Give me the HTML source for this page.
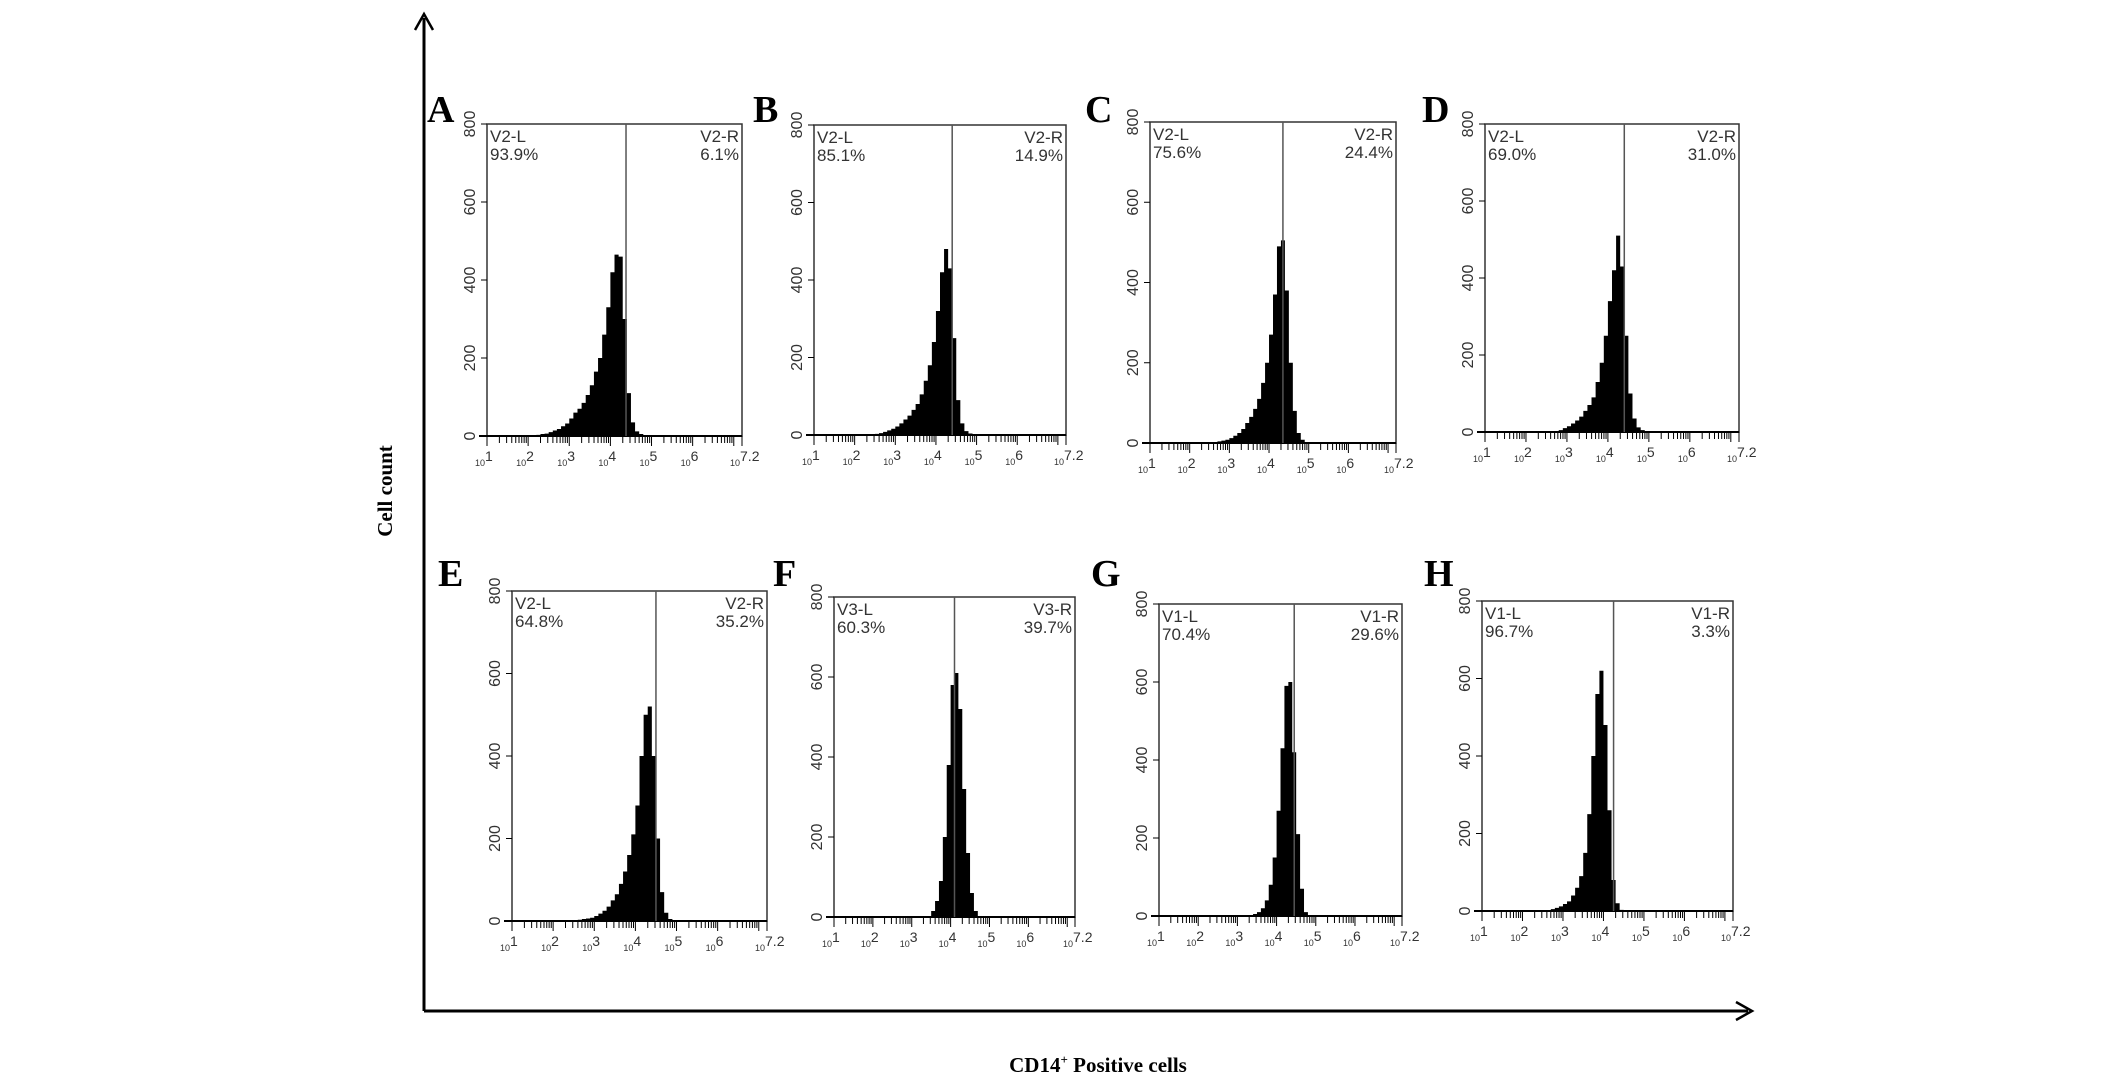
<!DOCTYPE html>
<html><head><meta charset="utf-8"><style>
html,body{margin:0;padding:0;background:#fff;}
svg{display:block;}
</style></head><body>
<svg id="fig" width="2126" height="1087" viewBox="0 0 2126 1087" xmlns="http://www.w3.org/2000/svg">
<g>
<line x1="424" y1="1011" x2="424" y2="18" stroke="#000" stroke-width="3"/>
<path d="M415 30 L424 14 L433 30" fill="none" stroke="#000" stroke-width="2.5"/>
</g>
<g>
<line x1="424" y1="1011" x2="1748" y2="1011" stroke="#000" stroke-width="3"/>
<path d="M1736 1002 L1752 1011 L1736 1020" fill="none" stroke="#000" stroke-width="2.5"/>
</g>
<text transform="translate(392,491) rotate(-90)" text-anchor="middle" font-family="Liberation Serif, serif" font-weight="bold" font-size="21">Cell count</text>
<text x="1098" y="1072" text-anchor="middle" font-family="Liberation Serif, serif" font-weight="bold" font-size="21">CD14<tspan dy="-8" font-size="13">+</tspan><tspan dy="8"> Positive cells</tspan></text>
<g id="panels"></g>
</svg>
<script>
// histogram counts, log10 bins from 2.0 step 0.1
const binStart = 2.0;
const binStep = 0.1;
const panelLetters = ["A","B","C","D","E","F","G","H"];
const gateNames = ["V2","V2","V2","V2","V2","V3","V1","V1"];
const leftPct = ["93.9%","85.1%","75.6%","69.0%","64.8%","60.3%","70.4%","96.7%"];
const rightPct = ["6.1%","14.9%","24.4%","31.0%","35.2%","39.7%","29.6%","3.3%"];
const gateLog = [4.38,4.4,4.35,4.4,4.5,4.1,4.45,4.25];
const countsA = [0,2,3,5,6,10,14,18,25,32,45,60,70,85,105,130,165,200,260,330,420,465,460,300,110,35,12,5,2,0,0,0,0,0,0];
const countsB = [0,0,0,1,2,3,5,8,12,16,22,30,40,50,65,80,105,140,180,240,320,420,480,430,250,90,30,10,4,1,0,0,0,0,0];
const countsC = [0,0,0,0,0,0,2,4,6,8,12,18,25,35,50,65,85,110,150,200,270,370,490,505,380,200,80,25,8,2,0,0,0,0,0];
const countsD = [0,0,0,0,0,0,0,0,5,10,15,22,30,40,55,70,90,130,180,250,340,420,510,430,250,100,35,12,5,0,0,0,0,0,0];
const countsE = [0,0,0,0,0,2,3,5,6,8,12,18,25,35,50,65,90,120,160,210,280,400,500,520,400,200,70,20,5,0,0,0,0,0,0];
const countsF = [0,0,0,0,0,0,0,0,0,0,0,0,0,0,0,15,40,90,200,380,580,610,520,320,160,60,15,0,0,0,0,0,0,0,0];
const countsG = [0,0,0,0,0,0,0,0,0,0,0,0,0,2,5,10,20,40,80,150,270,430,590,600,420,210,70,10,0,0,0,0,0,0,0];
const countsH = [0,0,0,0,0,0,0,5,8,12,18,25,40,60,90,150,250,400,560,620,480,260,80,20,3,0,0,0,0,0,0,0,0,0,0];
const yTicks = [0,200,400,600,800];
const xTickLabels = ["1","2","3","4","5","6","7.2"];
const xTickLogs = [1,2,3,4,5,6,7.2];
const allCounts = [countsA,countsB,countsC,countsD,countsE,countsF,countsG,countsH];
const frames = [[487,124,742,436],[814,125,1066,435],[1150,122,1396,443],[1485,124,1739,432],
                [512,591,767,921],[834,597,1075,917],[1159,604,1402,916],[1482,601,1733,911]];
const letterPos = [[427,122],[753,122],[1085,122],[1422,122],[438,586],[773,586],[1091,586],[1424,586]];
const NS="http://www.w3.org/2000/svg";
const root=document.getElementById('panels');
function mk(tag,attrs,parent){const e=document.createElementNS(NS,tag);for(const k in attrs)e.setAttribute(k,attrs[k]);parent.appendChild(e);return e;}
for(let p=0;p<8;p++){
  const [x0,y0,x1,y1]=frames[p];
  const xs=v=>x0+(v-1)/(7.2-1)*(x1-x0);
  const ys=v=>y1-v/800*(y1-y0);
  const g=mk('g',{},root);
  
  
  const L=mk('text',{x:letterPos[p][0],y:letterPos[p][1],'font-family':'Liberation Serif, serif','font-weight':'bold','font-size':'38'},g);
  L.textContent=panelLetters[p];
  
  
  const c=allCounts[p];
  let d='M'+xs(binStart)+' '+y1;
  for(let i=0;i<c.length;i++){const a=binStart+i*binStep;d+=' L'+xs(a)+' '+ys(c[i])+' L'+xs(a+binStep)+' '+ys(c[i]);}
  d+=' L'+xs(binStart+c.length*binStep)+' '+y1+' Z';
  const h=mk('path',{d:d,fill:'#000'},g);
  
  
  const f=mk('rect',{x:x0,y:y0,width:x1-x0,height:y1-y0,fill:'none',stroke:'#333','stroke-width':1.5},g);
  
  
  mk('line',{x1:x0-8,y1:y1,x2:x1,y2:y1,stroke:'#000','stroke-width':2},g);
  const gx=xs(gateLog[p]);
  const gl=mk('line',{x1:gx,y1:y0,x2:gx,y2:y1,stroke:'#555','stroke-width':1.5},g);
  
  
  const ff='Liberation Sans, sans-serif';
  const t1=mk('text',{x:x0+3,y:y0+18,'font-family':ff,'font-size':17,fill:'#333'},g);t1.textContent=gateNames[p]+'-L';
  
  
  const t2=mk('text',{x:x0+3,y:y0+36,'font-family':ff,'font-size':17,fill:'#333'},g);t2.textContent=leftPct[p];
  
  
  const t3=mk('text',{x:x1-3,y:y0+18,'font-family':ff,'font-size':17,fill:'#333','text-anchor':'end'},g);t3.textContent=gateNames[p]+'-R';
  
  
  const t4=mk('text',{x:x1-3,y:y0+36,'font-family':ff,'font-size':17,fill:'#333','text-anchor':'end'},g);t4.textContent=rightPct[p];
  
  
  for(const v of yTicks){
    const yy=ys(v);
    mk('line',{x1:x0-6,y1:yy,x2:x0,y2:yy,stroke:'#000','stroke-width':1},g);
    const tl=mk('text',{transform:'translate('+(x0-12)+','+yy+') rotate(-90)','text-anchor':'middle','font-family':ff,'font-size':16,fill:'#333'},g);
    tl.textContent=v;
    
    
  }
  for(let dec=1;dec<7.2;dec++){
    for(let k=1;k<10;k++){
      const lv=dec+Math.log10(k);
      if(lv>7.2)break;
      const xx=xs(lv);
      mk('line',{x1:xx,y1:y1,x2:xx,y2:y1+(k===1?10:7),stroke:'#000','stroke-width':1},g);
    }
  }
  mk('line',{x1:x1,y1:y1,x2:x1,y2:y1+10,stroke:'#000','stroke-width':1},g);
  for(let i=0;i<xTickLogs.length;i++){
    const xx=xs(xTickLogs[i]);
    const xl=mk('text',{x:xx-12,y:y1+30,'font-family':ff,'font-size':9,fill:'#333'},g);
    xl.textContent='10';
    
    
    const sp=mk('tspan',{dy:-5,'font-size':14},xl);sp.textContent=xTickLabels[i];
  }
}
</script>
</body></html>
